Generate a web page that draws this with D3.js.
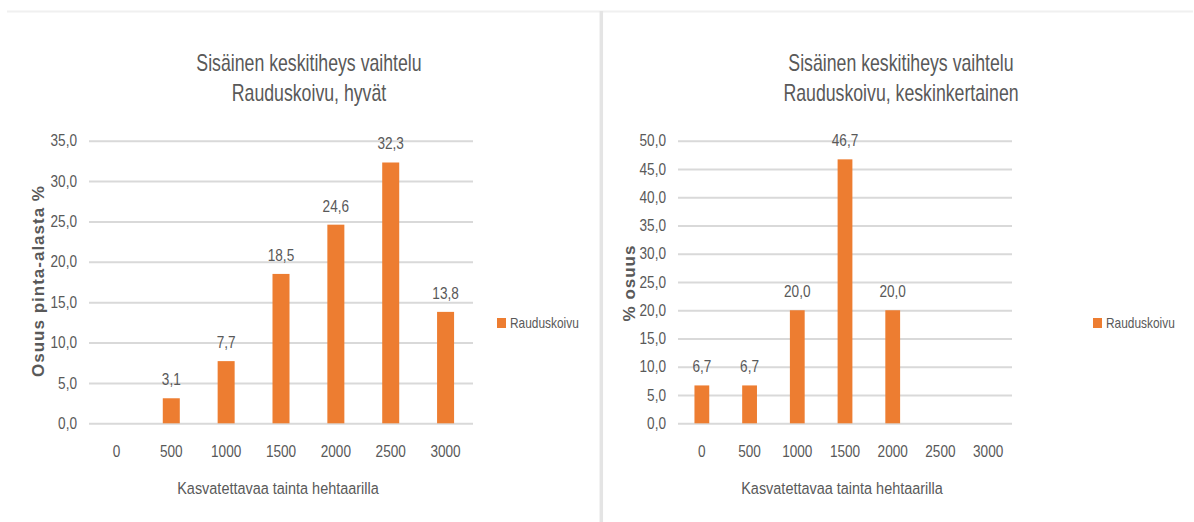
<!DOCTYPE html>
<html>
<head>
<meta charset="utf-8">
<script src="https://cdn.jsdelivr.net/npm/d3@7"></script>
<style>
  html, body { margin: 0; padding: 0; background: #ffffff; }
  svg { display: block; }
  text { font-family: "Liberation Sans", Arial, sans-serif; fill: #595959; }
  .ytitle { font-weight: bold; letter-spacing: 1px; }
</style>
</head>
<body>
<svg id="chart" width="1194" height="522"></svg>
<script>
// Tree-density categories (saplings per hectare), shared by both panels
const categories = ["0", "500", "1000", "1500", "2000", "2500", "3000"];

// Share of area (%) per category; null = no bar / no label
const valuesGood = [null, 3.1, 7.7, 18.5, 24.6, 32.3, 13.8];
const valuesMedium = [6.7, 6.7, 20.0, 46.7, 20.0, null, null];

const yTicksGood = [0, 5, 10, 15, 20, 25, 30, 35];
const yTicksMedium = [0, 5, 10, 15, 20, 25, 30, 35, 40, 45, 50];

const titleLine1 = "Sisäinen keskitiheys vaihtelu";
const titleGood = "Rauduskoivu, hyvät";
const titleMedium = "Rauduskoivu, keskinkertainen";
const xAxisTitle = "Kasvatettavaa tainta hehtaarilla";
const yTitleGood = "Osuus pinta-alasta %";
const yTitleMedium = "% osuus";
const seriesName = "Rauduskoivu";

const BAR = "#ED7D31";
const GRID = "#d9d9d9";
const fmt = v => d3.format(".1f")(v).replace(".", ",");

// Condense text horizontally around its own x anchor
function squeeze(sel, sx = 0.85) {
  sel.each(function () {
    const t = d3.select(this);
    const x = +(t.attr("x") || 0);
    t.attr("transform", `translate(${x * (1 - sx)},0) scale(${sx},1)`);
  });
}

const svg = d3.select("#chart");

// Frame: light top rule and the divider between the panels
svg.append("line").attr("x1", 7).attr("x2", 1193).attr("y1", 11.5).attr("y2", 11.5)
  .attr("stroke", "#f0f0f0").attr("stroke-width", 2);
svg.append("line").attr("x1", 601.3).attr("x2", 601.3).attr("y1", 11).attr("y2", 522)
  .attr("stroke", "#e4e4e4").attr("stroke-width", 3.5);

function drawPanel(opt) {
  const g = svg.append("g");
  const x = d3.scaleBand().domain(categories).range([opt.x0, opt.x1]).paddingInner(opt.pad).paddingOuter(opt.pad / 2);
  const y = d3.scaleLinear().domain([0, opt.yMax]).range([opt.yBottom, opt.yTop]);

  // Title (two lines)
  g.append("text").attr("x", opt.titleX).attr("y", 71).attr("text-anchor", "middle")
    .style("font-size", "23px").text(titleLine1).call(squeeze, 0.77);
  g.append("text").attr("x", opt.titleX).attr("y", 101).attr("text-anchor", "middle")
    .style("font-size", "23px").text(opt.title2).call(squeeze, 0.77);

  // Horizontal gridlines with value ticks
  const yAxis = d3.axisLeft(y).tickValues(opt.ticks).tickFormat(fmt)
    .tickSize(-(opt.x1 - opt.x0)).tickPadding(12);
  const ya = g.append("g").attr("transform", `translate(${opt.x0},0)`).call(yAxis);
  ya.select(".domain").remove();
  ya.selectAll(".tick line").attr("stroke", GRID).attr("stroke-width", 2);
  ya.selectAll(".tick text").attr("fill", "#595959").style("font-size", "16px")
    .style("font-family", null).call(squeeze);

  // Category axis labels (no axis line)
  const xAxis = d3.axisBottom(x).tickSize(0).tickPadding(0);
  const xa = g.append("g").attr("transform", `translate(0,${opt.yBottom + 22})`).call(xAxis);
  xa.select(".domain").remove();
  xa.selectAll(".tick text").attr("fill", "#595959").style("font-size", "16px")
    .style("font-family", null).call(squeeze);

  // Bars
  const data = categories.map((c, i) => ({ c, v: opt.values[i] })).filter(d => d.v !== null);
  g.selectAll("rect.bar").data(data).join("rect").attr("class", "bar")
    .attr("x", d => x(d.c)).attr("width", x.bandwidth())
    .attr("y", d => y(d.v)).attr("height", d => y(0) - y(d.v))
    .attr("fill", BAR);

  // Value labels
  g.selectAll("text.lbl").data(data).join("text").attr("class", "lbl")
    .attr("x", d => x(d.c) + x.bandwidth() / 2).attr("y", d => y(d.v) - 13)
    .attr("text-anchor", "middle").style("font-size", "16px").text(d => fmt(d.v)).call(squeeze);

  // Axis titles
  g.append("text").attr("x", (opt.x0 + opt.x1) / 2 - 3).attr("y", 494).attr("text-anchor", "middle")
    .style("font-size", "17px").text(xAxisTitle).call(squeeze);
  g.append("text").attr("class", "ytitle")
    .attr("transform", `translate(${opt.yTitleX},${opt.yTitleY}) rotate(-90)`)
    .attr("text-anchor", "middle").style("font-size", "17px").text(opt.yTitle);

  // Legend
  g.append("rect").attr("x", opt.legX).attr("y", 318).attr("width", 9).attr("height", 10).attr("fill", BAR);
  g.append("text").attr("x", opt.legX + 13).attr("y", 328).style("font-size", "14px").text(seriesName).call(squeeze);
}

drawPanel({
  x0: 89, x1: 473, yTop: 140.7, yBottom: 423.3, yMax: 35, pad: 0.69,
  ticks: yTicksGood, values: valuesGood, title2: titleGood, titleX: 309,
  yTitle: yTitleGood, yTitleX: 44, yTitleY: 281, legX: 497
});

drawPanel({
  x0: 678, x1: 1012, yTop: 140.7, yBottom: 423.3, yMax: 50, pad: 0.69,
  ticks: yTicksMedium, values: valuesMedium, title2: titleMedium, titleX: 901,
  yTitle: yTitleMedium, yTitleX: 635, yTitleY: 283, legX: 1093
});
</script>
</body>
</html>
